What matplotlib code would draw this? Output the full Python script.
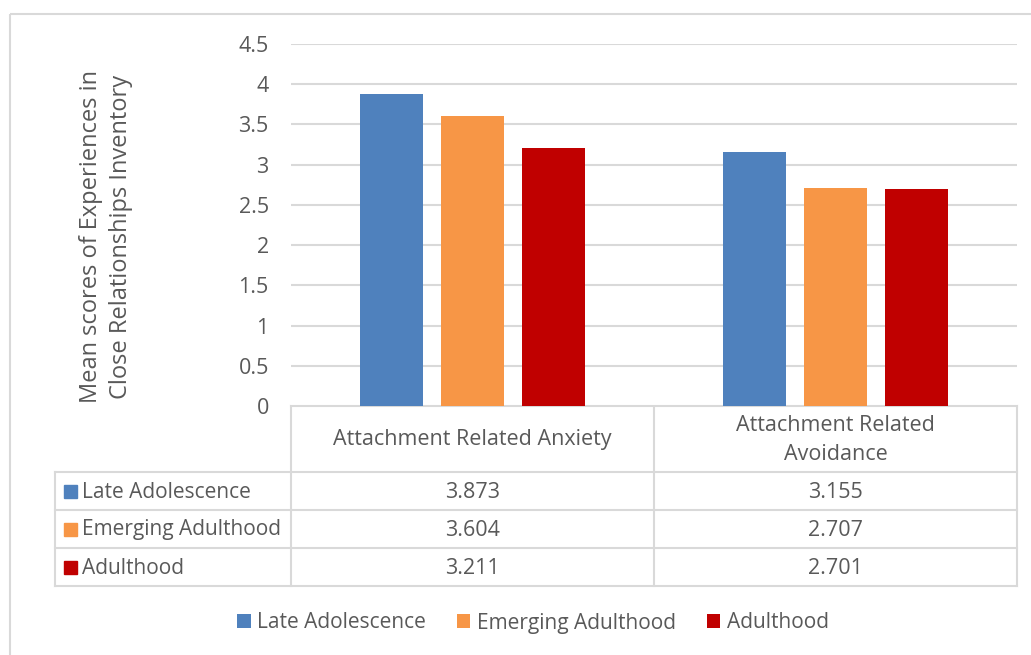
import numpy as np
import matplotlib.pyplot as plt
import matplotlib as mpl
from matplotlib.patches import Rectangle

mpl.rcParams['font.family'] = 'Open Sans'
text_col = '#595959'
grid_col = '#d9d9d9'
fs = 15.5

categories = ["Attachment Related Anxiety", "Attachment Related\nAvoidance"]
groups = ["Late Adolescence", "Emerging Adulthood", "Adulthood"]
late_adolescence = [3.873, 3.155]
emerging_adulthood = [3.604, 2.707]
adulthood = [3.211, 2.701]
yticks = [0, 0.5, 1, 1.5, 2, 2.5, 3, 3.5, 4, 4.5]
ylabel = "Mean scores of Experiences in\nClose Relationships Inventory"

series = [late_adolescence, emerging_adulthood, adulthood]
colors = ['#4F81BD', '#F79646', '#C00000']

W, H = 1031, 655
fig = plt.figure(figsize=(W / 100, H / 100), dpi=100)

# pixel-space overlay for the frame and data table
bg = fig.add_axes([0, 0, 1, 1])
bg.set_xlim(0, W)
bg.set_ylim(H, 0)
bg.axis('off')
bg.add_patch(Rectangle((10, 14), W + 20, H + 20, fill=False, ec=grid_col, lw=1.5))

# plot area
left, right, top, bottom = 291, 1017, 44, 406
ax = fig.add_axes([left / W, 1 - bottom / H, (right - left) / W, (bottom - top) / H])
x = np.arange(len(categories))
width = 0.174
offsets = [-0.222, 0, 0.222]
handles = []
for vals, off, c, name in zip(series, offsets, colors, groups):
    h = ax.bar(x + off, vals, width, color=c, label=name, zorder=3)
    handles.append(h)
ax.set_xlim(-0.5, 1.5)
ax.set_ylim(0, 4.5)
ax.set_yticks(yticks)
ax.set_yticklabels([f"{t:g}" for t in yticks])
ax.set_xticks([])
ax.grid(axis='y', color=grid_col, lw=1.5, zorder=0)
for s in ax.spines.values():
    s.set_visible(False)
ax.tick_params(axis='y', length=0, pad=16, labelsize=fs, labelcolor=text_col)
ax.set_ylabel(ylabel, fontsize=17, color=text_col, va='center', linespacing=1.3)
ax.yaxis.set_label_coords(-0.255, 0.467)

# data table under the axis
cols = [55, 291, 654, 1017]
rows = [406, 472, 510, 548, 586]
kw = dict(color=grid_col, lw=1.5, zorder=1)
bg.plot([cols[1], cols[3]], [rows[0], rows[0]], **kw)
for yy in rows[1:]:
    bg.plot([cols[0], cols[3]], [yy, yy], **kw)
for xx in cols[1:]:
    bg.plot([xx, xx], [rows[0], rows[-1]], **kw)
bg.plot([cols[0], cols[0]], [rows[1], rows[-1]], **kw)

for j, cat in enumerate(categories):
    cx = (cols[j + 1] + cols[j + 2]) / 2
    bg.text(cx, (rows[0] + rows[1]) / 2 + 1, cat, ha='center', va='center',
            fontsize=fs, color=text_col, linespacing=1.45)
    for i, vals in enumerate(series):
        cy = (rows[i + 1] + rows[i + 2]) / 2 + 1
        bg.text(cx, cy, f"{vals[j]:.3f}", ha='center', va='center', fontsize=fs, color=text_col)

for i, (name, c) in enumerate(zip(groups, colors)):
    cy = (rows[i + 1] + rows[i + 2]) / 2
    bg.add_patch(Rectangle((64, cy - 6.5), 13, 13, color=c))
    bg.text(82, cy + 1, name, ha='left', va='center', fontsize=15, color=text_col)

leg = fig.legend(handles=handles, loc='center', bbox_to_anchor=(533 / W, 1 - 623 / H), ncol=3,
                 frameon=False, fontsize=15, handlelength=0.64, handleheight=0.64,
                 handletextpad=0.3, columnspacing=1.5)
for t in leg.get_texts():
    t.set_color(text_col)

fig.savefig("out.png", dpi=100)
